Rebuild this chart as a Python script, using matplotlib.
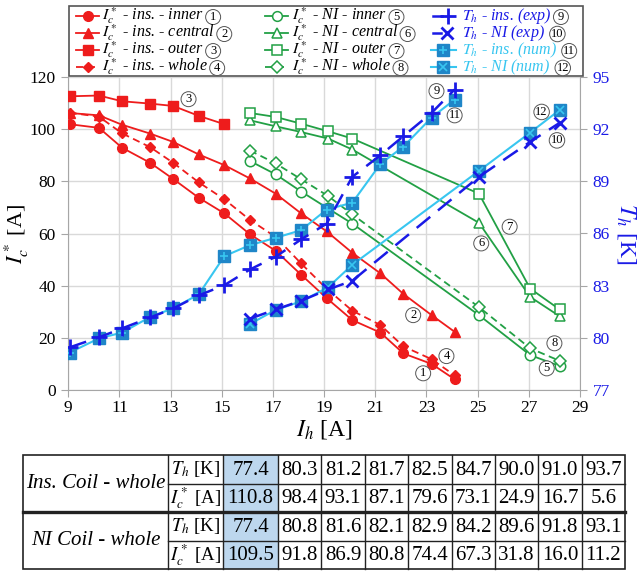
import matplotlib
matplotlib.use('Agg')
import matplotlib.pyplot as plt

plt.rcParams['font.family'] = ['Liberation Serif', 'DejaVu Serif']
plt.rcParams['mathtext.fontset'] = 'stix'

# ---------------- data ----------------
ih_ins = [9.05, 10.2, 11.1, 12.2, 13.1, 14.1, 15.1, 16.1, 17.1, 18.1, 19.1, 20.1, 21.2, 22.1, 23.2, 24.1]
ic_ins_inner = [101.9, 100.5, 92.9, 87.1, 80.9, 73.7, 67.7, 59.7, 53.4, 44.2, 35.2, 26.8, 22.0, 14.0, 10.0, 4.1]
ic_ins_central = [106.2, 105.3, 101.7, 98.3, 95.1, 90.3, 86.2, 81.1, 75.3, 67.7, 60.8, 52.6, 44.7, 36.8, 28.7, 22.3]
ic_ins_outer = [112.6, 112.9, 110.7, 109.8, 108.9, 105.1, 101.9]
ic_ins_whole = [106.3, 104.8, 98.4, 93.1, 87.1, 79.6, 73.1, 65.2, 58.7, 48.5, 38.8, 30.4, 24.9, 16.7, 11.8, 5.6]
th_ins_exp = [79.45, 80.03, 80.54, 81.17, 81.69, 82.44, 83.03, 83.93, 84.66, 85.66, 86.57, 89.26, 90.5, 91.6, 92.94, 94.28]
th_ins_num = [79.15, 79.97, 80.3, 81.2, 81.7, 82.5, 84.7, 85.33, 85.75, 86.19, 87.38, 87.77, 90.0, 91.0, 92.67, 93.7]

ih_ni = [16.1, 17.1, 18.1, 19.15, 20.1, 25.05, 27.05, 28.2]
ic_ni_inner = [87.8, 82.7, 76.1, 69.6, 63.8, 28.7, 13.4, 9.2]
ic_ni_central = [103.4, 101.1, 98.9, 96.4, 92.2, 64.1, 35.7, 28.3]
ic_ni_outer = [106.2, 104.7, 102.1, 99.2, 96.4, 75.3, 38.9, 30.9]
ic_ni_whole = [91.8, 86.9, 80.8, 74.4, 67.3, 31.8, 16.0, 11.2]
th_ni_exp = [81.1, 81.63, 82.13, 82.78, 83.28, 89.26, 91.27, 92.36]
th_ni_num = [80.8, 81.6, 82.1, 82.9, 84.2, 89.6, 91.8, 93.1]

x_ticks = [9, 11, 13, 15, 17, 19, 21, 23, 25, 27, 29]
ic_ticks = [0, 20, 40, 60, 80, 100, 120]
th_ticks = [77, 80, 83, 86, 89, 92, 95]

tab_ins_T = [77.4, 80.3, 81.2, 81.7, 82.5, 84.7, 90.0, 91.0, 93.7]
tab_ins_I = [110.8, 98.4, 93.1, 87.1, 79.6, 73.1, 24.9, 16.7, 5.6]
tab_ni_T = [77.4, 80.8, 81.6, 82.1, 82.9, 84.2, 89.6, 91.8, 93.1]
tab_ni_I = [109.5, 91.8, 86.9, 80.8, 74.4, 67.3, 31.8, 16.0, 11.2]

# ---------------- style ----------------
RED = '#ee1c1c'
GREEN = '#22a045'
BLUE = '#1a1ae6'
CYAN = '#38c6f0'
CYAN_FILL = '#1f86c8'
AXC = '#a6a6a6'

W, H = 641, 572
fig = plt.figure(figsize=(W / 100, H / 100), dpi=100)

ax0 = fig.add_axes([0, 0, 1, 1])
ax0.set_xlim(0, W)
ax0.set_ylim(H, 0)
ax0.axis('off')

ax1 = fig.add_axes([68.3 / W, 1 - 390 / H, (580 - 68.3) / W, (390 - 77) / H])
ax1.set_xlim(9, 29)
ax1.set_ylim(0, 120)
ax1.set_xticks(x_ticks)
ax1.set_yticks(ic_ticks)
ax1.grid(True, color='#d9d9d9', lw=1)
ax1.set_axisbelow(True)
ax1.patch.set_alpha(0)
for s in ['top', 'right']:
    ax1.spines[s].set_visible(False)
for s in ['left', 'bottom']:
    ax1.spines[s].set_color(AXC)
ax1.tick_params(axis='both', direction='out', length=5, color=AXC, labelsize=12.5)
ax1.tick_params(axis='y', pad=4)
ax1.tick_params(axis='x', pad=2.5)
ax1.set_xlabel(r'$I_h$ [A]', fontsize=17, labelpad=1)
ax1.set_ylabel(r'$I_c^*$ [A]', fontsize=16, labelpad=-1)

lw = 1.3
ax1.plot(ih_ins, ic_ins_inner, '-o', color=RED, ms=7, lw=lw, zorder=3)
ax1.plot(ih_ins, ic_ins_central, '-^', color=RED, ms=6.5, lw=lw, zorder=3)
ax1.plot(ih_ins[:len(ic_ins_outer)], ic_ins_outer, '-s', color=RED, ms=7, lw=lw, zorder=3)
ax1.plot(ih_ins, ic_ins_whole, '--D', color=RED, ms=5.5, lw=lw, dashes=(4, 2.5), zorder=3)

gkw = dict(color=GREEN, mfc='white', mec=GREEN, mew=1.1, lw=lw, zorder=3)
ax1.plot(ih_ni, ic_ni_inner, '-o', ms=7.5, **gkw)
ax1.plot(ih_ni, ic_ni_central, '-^', ms=7.5, **gkw)
ax1.plot(ih_ni, ic_ni_outer, '-s', ms=7.5, **gkw)
ax1.plot(ih_ni, ic_ni_whole, '--D', ms=6, dashes=(4, 2.5), **gkw)

ax2 = ax1.twinx()
ax2.set_ylim(77, 95)
ax2.set_yticks(th_ticks)
for s in ['top', 'left', 'bottom']:
    ax2.spines[s].set_visible(False)
ax2.spines['right'].set_color(AXC)
ax2.tick_params(axis='y', direction='out', length=5, color=AXC, labelsize=12.5,
                labelcolor=BLUE, pad=4)
ax2.set_ylabel(r'$T_h$ [K]', fontsize=17, color=BLUE, rotation=270, labelpad=20)

ax2.plot(ih_ins, th_ins_num, '-s', color=CYAN, mfc=CYAN_FILL, mec=CYAN_FILL, ms=8, lw=1.5, zorder=3)
ax2.plot(ih_ins, th_ins_num, ls='none', marker='+', color=CYAN, ms=6, mew=1.2, zorder=4)
ax2.plot(ih_ni, th_ni_num, '-s', color=CYAN, mfc=CYAN_FILL, mec=CYAN_FILL, ms=8, lw=1.5, zorder=3)
ax2.plot(ih_ni, th_ni_num, ls='none', marker='x', color=CYAN, ms=5.5, mew=1.2, zorder=4)
ax2.plot(ih_ins, th_ins_exp, '--+', color=BLUE, ms=11, mew=2, lw=1.8, dashes=(7, 4), zorder=5)
ax2.plot(ih_ni, th_ni_exp, '--x', color=BLUE, ms=9, mew=2, lw=1.8, dashes=(7, 4), zorder=5)

circ = dict(boxstyle='circle,pad=0.12', fc='white', ec='#555555', lw=0.7)

# circled labels on the plot (left-axis data coordinates)
labels_pos = {1: (22.87, 6.4), 2: (22.48, 28.7), 3: (13.7, 111.5), 4: (23.78, 13.0),
              5: (27.7, 8.3), 6: (25.14, 56.2), 7: (26.25, 62.6), 8: (28.0, 17.9),
              9: (23.39, 114.6), 10: (28.1, 95.7), 11: (24.1, 105.3), 12: (27.5, 106.6)}
for n, (xx, yy) in labels_pos.items():
    ax2.text(xx, yy, str(n), transform=ax1.transData, ha='center', va='center',
             fontsize=9, bbox=circ, zorder=6)

# ---------------- legend (drawn manually) ----------------
ax0.add_patch(plt.Rectangle((69, 6), 583 - 69, 70, fill=False, ec='#555555', lw=1.2))
rows_y = [16, 33, 50, 67]

leg1 = [r'$I_c^*$ - ins. - inner', r'$I_c^*$ - ins. - central',
        r'$I_c^*$ - ins. - outer', r'$I_c^*$ - ins. - whole']
leg2 = [r'$I_c^*$ - NI - inner', r'$I_c^*$ - NI - central',
        r'$I_c^*$ - NI - outer', r'$I_c^*$ - NI - whole']
leg3 = [r'$T_h$ - ins. (exp)', r'$T_h$ - NI (exp)',
        r'$T_h$ - ins. (num)', r'$T_h$ - NI (num)']


def leg_text(x, y, s, n, color='black'):
    t = ax0.text(x, y, s, ha='left', va='center', fontsize=11.5, style='italic', color=color)
    ax0.annotate(str(n), xy=(1, 0.45), xycoords=t, xytext=(4.5, 0), textcoords='offset points',
                 ha='left', va='center', fontsize=9, bbox=circ)


mk1 = ['o', '^', 's', 'D']
ms1 = [7, 6.5, 7, 5.5]
for i, y in enumerate(rows_y):
    if i < 3:
        ax0.plot([76, 99], [y, y], '-', color=RED, lw=lw)
    else:
        ax0.plot([76, 99], [y, y], '--', color=RED, lw=lw, dashes=(4, 2.5))
    ax0.plot([87.5], [y], marker=mk1[i], color=RED, ms=ms1[i])
    leg_text(102, y, leg1[i], i + 1)

    if i < 3:
        ax0.plot([265, 288], [y, y], '-', color=GREEN, lw=lw)
    else:
        ax0.plot([265, 288], [y, y], '--', color=GREEN, lw=lw, dashes=(4, 2.5))
    ax0.plot([276.5], [y], marker=mk1[i], color=GREEN, mfc='white', mew=1.1,
             ms=7 if i < 3 else 6)
    leg_text(292, y, leg2[i], i + 5)

# column 3
y = rows_y[0]
ax0.plot([433, 442], [y, y], '-', color=BLUE, lw=1.8)
ax0.plot([448], [y], marker='+', color=BLUE, ms=11, mew=2)
leg_text(462, y, leg3[0], 9, BLUE)
y = rows_y[1]
ax0.plot([433, 441], [y, y], '-', color=BLUE, lw=1.8)
ax0.plot([447], [y], marker='x', color=BLUE, ms=9, mew=2)
leg_text(462, y, leg3[1], 10, BLUE)
y = rows_y[2]
ax0.plot([431, 456], [y, y], '-', color=CYAN, lw=1.5)
ax0.plot([443], [y], marker='s', color=CYAN_FILL, ms=8)
ax0.plot([443], [y], marker='+', color=CYAN, ms=6, mew=1.2)
leg_text(462, y, leg3[2], 11, CYAN)
y = rows_y[3]
ax0.plot([431, 456], [y, y], '-', color=CYAN, lw=1.5)
ax0.plot([443], [y], marker='s', color=CYAN_FILL, ms=8)
ax0.plot([443], [y], marker='x', color=CYAN, ms=5.5, mew=1.2)
leg_text(462, y, leg3[3], 12, CYAN)

# ---------------- table ----------------
tx0, tx1 = 23, 625
ty = [455, 483.5, 512, 540.5, 569]
x_lab, x_unit, x_shade = 168, 223, 278
ncol = len(tab_ins_T) - 1
cw = (tx1 - x_shade) / ncol
col_edges = [x_unit, x_shade] + [x_shade + cw * (k + 1) for k in range(ncol)]

ax0.add_patch(plt.Rectangle((x_unit, ty[0]), x_shade - x_unit, ty[-1] - ty[0],
                            fc='#bdd7ee', ec='none'))
ax0.add_patch(plt.Rectangle((tx0, ty[0]), tx1 - tx0, ty[-1] - ty[0], fill=False,
                            ec='#222222', lw=1.2))
for yy in [ty[1], ty[3]]:
    ax0.plot([x_lab, tx1], [yy, yy], color='#222222', lw=1.0)
ax0.plot([tx0, tx1], [ty[2], ty[2]], color='#222222', lw=2.4)
for xx in [x_lab] + col_edges[:-1]:
    ax0.plot([xx, xx], [ty[0], ty[-1]], color='#222222', lw=1.0)

ax0.text((tx0 + x_lab) / 2, ty[1], 'Ins. Coil - whole', ha='center', va='center',
         fontsize=15, style='italic')
ax0.text((tx0 + x_lab) / 2, ty[3], 'NI Coil - whole', ha='center', va='center',
         fontsize=15, style='italic')

rows = [(r'$T_h$ [K]', tab_ins_T), (r'$I_c^*$ [A]', tab_ins_I),
        (r'$T_h$ [K]', tab_ni_T), (r'$I_c^*$ [A]', tab_ni_I)]
for r, (lab, vals) in enumerate(rows):
    yc = (ty[r] + ty[r + 1]) / 2
    ax0.text((x_lab + x_unit) / 2 + 0.5, yc, lab, ha='center', va='center', fontsize=13.5)
    for c, v in enumerate(vals):
        xc = (col_edges[c] + col_edges[c + 1]) / 2
        ax0.text(xc, yc + 1, f'{v:.1f}', ha='center', va='center', fontsize=15)

fig.savefig('out.png', dpi=100)
